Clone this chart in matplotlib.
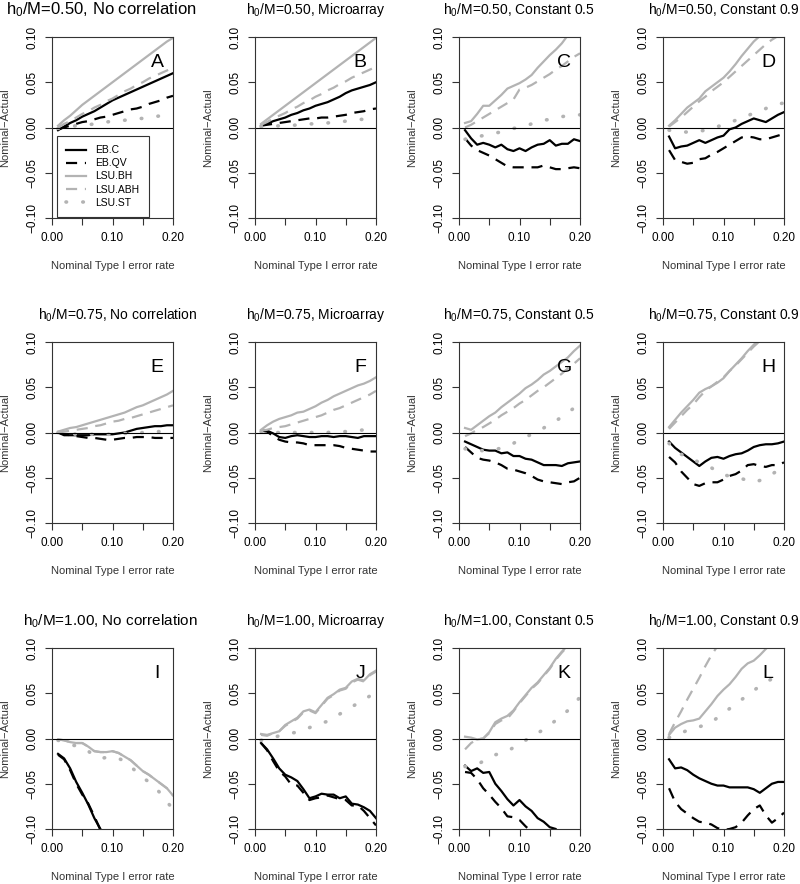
import matplotlib
matplotlib.use("Agg")
import matplotlib.pyplot as plt

plt.rcParams["font.family"] = ["Liberation Sans", "DejaVu Sans"]
plt.rcParams["mathtext.fontset"] = "custom"
plt.rcParams["mathtext.rm"] = "Liberation Sans"
plt.rcParams["mathtext.it"] = "Liberation Sans:italic"

# nominal type I error rate (x values)
nominal = [0.01, 0.02, 0.03, 0.04, 0.05, 0.06, 0.07, 0.08, 0.09, 0.10,
           0.11, 0.12, 0.13, 0.14, 0.15, 0.16, 0.17, 0.18, 0.19, 0.20]

ratios = ["0.50", "0.75", "1.00"]
structures = ["No correlation", "Microarray", "Constant 0.5", "Constant 0.9"]
letters = ["A", "B", "C", "D", "E", "F", "G", "H", "I", "J", "K", "L"]
methods = ["EB.C", "EB.QV", "LSU.BH", "LSU.ABH", "LSU.ST"]

# ---- row 1: h0/M = 0.50 ----
a_ebc = [-0.003, 0.001, 0.005, 0.008, 0.012, 0.015, 0.018, 0.022, 0.026, 0.030,
         0.033, 0.036, 0.039, 0.042, 0.045, 0.048, 0.051, 0.054, 0.057, 0.060]
a_ebqv = [-0.002, 0.000, 0.002, 0.004, 0.006, 0.007, 0.009, 0.011, 0.012, 0.014,
          0.016, 0.018, 0.020, 0.021, 0.023, 0.026, 0.028, 0.030, 0.033, 0.035]
a_bh = [0.002, 0.008, 0.013, 0.019, 0.025, 0.030, 0.035, 0.040, 0.045, 0.050,
        0.055, 0.060, 0.065, 0.070, 0.075, 0.080, 0.085, 0.090, 0.095, 0.099]
a_abh = [0.000, 0.004, 0.007, 0.011, 0.015, 0.018, 0.022, 0.025, 0.029, 0.032,
         0.036, 0.040, 0.043, 0.047, 0.050, 0.054, 0.057, 0.060, 0.063, 0.066]
a_st = [-0.001, 0.000, 0.001, 0.002, 0.002, 0.003, 0.004, 0.005, 0.006, 0.007,
        0.007, 0.008, 0.009, 0.010, 0.010, 0.011, 0.012, 0.013, 0.013, 0.014]

b_ebc = [0.002, 0.004, 0.007, 0.009, 0.011, 0.014, 0.016, 0.019, 0.021, 0.024,
         0.026, 0.028, 0.031, 0.034, 0.038, 0.041, 0.043, 0.045, 0.047, 0.050]
b_ebqv = [0.002, 0.003, 0.004, 0.005, 0.006, 0.007, 0.008, 0.009, 0.010, 0.010,
          0.011, 0.011, 0.012, 0.013, 0.014, 0.016, 0.017, 0.018, 0.020, 0.021]
b_bh = [0.004, 0.009, 0.014, 0.019, 0.024, 0.029, 0.034, 0.039, 0.044, 0.049,
        0.054, 0.059, 0.064, 0.069, 0.074, 0.079, 0.084, 0.089, 0.094, 0.099]
b_abh = [0.003, 0.006, 0.010, 0.013, 0.016, 0.020, 0.023, 0.027, 0.030, 0.034,
         0.037, 0.041, 0.044, 0.048, 0.051, 0.055, 0.058, 0.061, 0.064, 0.067]
b_st = [0.001, 0.001, 0.001, 0.002, 0.002, 0.002, 0.003, 0.003, 0.004, 0.004,
        0.005, 0.005, 0.006, 0.006, 0.007, 0.008, 0.009, 0.009, 0.010, 0.011]

c_ebc = [-0.003, -0.012, -0.019, -0.017, -0.019, -0.022, -0.019, -0.024, -0.026, -0.023,
         -0.026, -0.022, -0.019, -0.018, -0.014, -0.020, -0.018, -0.018, -0.013, -0.015]
c_ebqv = [-0.012, -0.020, -0.025, -0.028, -0.031, -0.035, -0.039, -0.043, -0.044, -0.044,
          -0.044, -0.044, -0.044, -0.042, -0.044, -0.046, -0.046, -0.045, -0.044, -0.045]
c_bh = [0.005, 0.007, 0.015, 0.024, 0.024, 0.030, 0.036, 0.043, 0.046, 0.049,
        0.053, 0.058, 0.066, 0.073, 0.080, 0.086, 0.093, 0.102, 0.108, 0.113]
c_abh = [0.000, 0.003, 0.007, 0.011, 0.015, 0.019, 0.023, 0.027, 0.031, 0.042,
         0.044, 0.047, 0.051, 0.055, 0.059, 0.064, 0.068, 0.073, 0.078, 0.082]
c_st = [-0.013, -0.012, -0.010, -0.009, -0.008, -0.006, -0.005, -0.003, -0.001, 0.000,
        0.002, 0.004, 0.006, 0.008, 0.009, 0.011, 0.012, 0.013, 0.014, 0.014]

d_ebc = [-0.010, -0.023, -0.021, -0.020, -0.017, -0.014, -0.017, -0.014, -0.011, -0.009,
         -0.002, 0.000, 0.004, 0.007, 0.010, 0.008, 0.006, 0.010, 0.014, 0.017]
d_ebqv = [-0.025, -0.036, -0.038, -0.040, -0.039, -0.035, -0.034, -0.030, -0.027, -0.023,
          -0.019, -0.015, -0.011, -0.010, -0.011, -0.013, -0.013, -0.011, -0.009, -0.007]
d_bh = [0.002, 0.008, 0.015, 0.022, 0.027, 0.032, 0.040, 0.045, 0.050, 0.055,
        0.062, 0.070, 0.079, 0.087, 0.095, 0.101, 0.105, 0.110, 0.115, 0.120]
d_abh = [0.001, 0.006, 0.011, 0.017, 0.023, 0.029, 0.034, 0.040, 0.045, 0.050,
         0.056, 0.062, 0.068, 0.074, 0.080, 0.086, 0.092, 0.097, 0.101, 0.105]
d_st = [-0.003, -0.004, -0.005, -0.005, -0.005, -0.004, -0.003, -0.001, 0.001, 0.003,
        0.005, 0.008, 0.010, 0.013, 0.016, 0.018, 0.021, 0.024, 0.026, 0.027]

# ---- row 2: h0/M = 0.75 ----
e_ebc = [0.000, -0.003, -0.003, -0.003, -0.003, -0.003, -0.002, -0.002, -0.002, -0.002,
         -0.001, 0.000, 0.002, 0.004, 0.005, 0.006, 0.007, 0.007, 0.008, 0.008]
e_ebqv = [0.000, -0.002, -0.003, -0.004, -0.005, -0.006, -0.006, -0.007, -0.008, -0.008,
          -0.007, -0.006, -0.006, -0.005, -0.005, -0.005, -0.006, -0.006, -0.006, -0.006]
e_bh = [0.001, 0.003, 0.005, 0.006, 0.008, 0.010, 0.012, 0.014, 0.016, 0.018,
        0.020, 0.022, 0.025, 0.028, 0.030, 0.033, 0.036, 0.039, 0.042, 0.046]
e_abh = [0.000, 0.001, 0.002, 0.003, 0.004, 0.005, 0.007, 0.008, 0.010, 0.012,
         0.013, 0.015, 0.016, 0.018, 0.020, 0.022, 0.024, 0.026, 0.028, 0.030]
e_st = [0.000, -0.001, -0.001, -0.002, -0.002, -0.002, -0.002, -0.002, -0.002, -0.002,
        -0.002, -0.001, -0.001, -0.001, 0.000, 0.000, 0.001, 0.001, 0.002, 0.002]

f_ebc = [0.002, 0.002, -0.001, -0.005, -0.006, -0.004, -0.003, -0.004, -0.005, -0.005,
         -0.004, -0.004, -0.005, -0.004, -0.004, -0.005, -0.006, -0.004, -0.004, -0.004]
f_ebqv = [0.002, 0.001, -0.004, -0.008, -0.010, -0.011, -0.011, -0.012, -0.014, -0.014,
          -0.014, -0.014, -0.014, -0.015, -0.017, -0.018, -0.019, -0.020, -0.021, -0.021]
f_bh = [0.003, 0.008, 0.012, 0.015, 0.017, 0.019, 0.022, 0.023, 0.026, 0.029,
        0.033, 0.036, 0.040, 0.043, 0.046, 0.049, 0.052, 0.054, 0.057, 0.061]
f_abh = [0.002, 0.003, 0.005, 0.006, 0.007, 0.009, 0.011, 0.013, 0.015, 0.017,
         0.019, 0.022, 0.025, 0.027, 0.030, 0.033, 0.036, 0.039, 0.042, 0.046]
f_st = [0.001, 0.001, 0.000, 0.000, 0.000, 0.000, 0.000, 0.000, 0.000, 0.000,
        0.000, 0.000, 0.001, 0.001, 0.001, 0.002, 0.002, 0.003, 0.004, 0.006]

g_ebc = [-0.010, -0.013, -0.016, -0.019, -0.020, -0.020, -0.023, -0.022, -0.026, -0.026,
         -0.029, -0.030, -0.033, -0.036, -0.036, -0.036, -0.037, -0.034, -0.033, -0.032]
g_ebqv = [-0.016, -0.022, -0.028, -0.030, -0.031, -0.033, -0.036, -0.040, -0.041, -0.043,
          -0.045, -0.048, -0.052, -0.054, -0.055, -0.056, -0.057, -0.055, -0.054, -0.050]
g_bh = [0.005, 0.003, 0.008, 0.013, 0.018, 0.022, 0.028, 0.033, 0.038, 0.043,
        0.049, 0.053, 0.058, 0.064, 0.068, 0.073, 0.078, 0.083, 0.090, 0.096]
g_abh = [-0.004, -0.001, 0.003, 0.006, 0.010, 0.014, 0.019, 0.023, 0.027, 0.032,
         0.036, 0.041, 0.046, 0.050, 0.055, 0.060, 0.065, 0.071, 0.076, 0.082]
g_st = [-0.018, -0.019, -0.020, -0.020, -0.020, -0.019, -0.017, -0.015, -0.012, -0.008,
        -0.005, -0.002, 0.001, 0.005, 0.009, 0.013, 0.017, 0.022, 0.027, 0.033]

h_ebc = [-0.010, -0.017, -0.022, -0.027, -0.032, -0.037, -0.032, -0.028, -0.027, -0.029,
         -0.026, -0.024, -0.023, -0.020, -0.016, -0.014, -0.013, -0.013, -0.012, -0.010]
h_ebqv = [-0.027, -0.033, -0.043, -0.050, -0.057, -0.059, -0.056, -0.055, -0.055, -0.052,
          -0.048, -0.046, -0.042, -0.036, -0.035, -0.037, -0.038, -0.036, -0.036, -0.033]
h_bh = [0.006, 0.014, 0.022, 0.029, 0.036, 0.044, 0.048, 0.051, 0.055, 0.060,
        0.068, 0.075, 0.082, 0.090, 0.097, 0.103, 0.108, 0.113, 0.118, 0.123]
h_abh = [0.004, 0.011, 0.018, 0.025, 0.031, 0.039, 0.046, 0.051, 0.056, 0.061,
         0.068, 0.074, 0.081, 0.088, 0.095, 0.101, 0.106, 0.111, 0.116, 0.121]
h_st = [-0.012, -0.020, -0.024, -0.027, -0.030, -0.033, -0.035, -0.039, -0.043, -0.047,
        -0.048, -0.049, -0.051, -0.053, -0.055, -0.053, -0.050, -0.046, -0.042, -0.040]

# ---- row 3: h0/M = 1.00 ----
i_ebc = [-0.017, -0.022, -0.033, -0.048, -0.060, -0.073, -0.088, -0.100, -0.112, -0.125,
         -0.138, -0.150, -0.162, -0.175, -0.187, -0.199, -0.210, -0.222, -0.234, -0.246]
i_ebqv = [-0.018, -0.023, -0.035, -0.050, -0.062, -0.072, -0.086, -0.101, -0.115, -0.128,
          -0.140, -0.152, -0.164, -0.177, -0.189, -0.201, -0.212, -0.224, -0.236, -0.248]
i_bh = [-0.001, -0.002, -0.004, -0.005, -0.005, -0.009, -0.014, -0.015, -0.015, -0.014,
        -0.016, -0.020, -0.024, -0.030, -0.036, -0.040, -0.045, -0.050, -0.055, -0.063]
i_abh = [-0.001, -0.002, -0.004, -0.005, -0.005, -0.009, -0.014, -0.015, -0.015, -0.014,
         -0.016, -0.020, -0.024, -0.030, -0.036, -0.040, -0.045, -0.050, -0.055, -0.063]
i_st = [-0.002, -0.004, -0.007, -0.008, -0.010, -0.014, -0.019, -0.022, -0.021, -0.020,
        -0.022, -0.025, -0.031, -0.037, -0.043, -0.048, -0.054, -0.061, -0.070, -0.078]

j_ebc = [-0.005, -0.012, -0.022, -0.033, -0.040, -0.043, -0.047, -0.056, -0.066, -0.064,
         -0.061, -0.062, -0.062, -0.066, -0.064, -0.072, -0.073, -0.076, -0.080, -0.088]
j_ebqv = [-0.005, -0.013, -0.025, -0.036, -0.042, -0.051, -0.052, -0.060, -0.068, -0.066,
          -0.065, -0.063, -0.065, -0.067, -0.068, -0.074, -0.074, -0.080, -0.088, -0.096]
j_bh = [0.005, 0.004, 0.006, 0.008, 0.015, 0.019, 0.023, 0.030, 0.032, 0.029,
        0.037, 0.045, 0.049, 0.054, 0.056, 0.063, 0.066, 0.064, 0.071, 0.075]
j_abh = [0.004, 0.003, 0.006, 0.008, 0.014, 0.018, 0.022, 0.029, 0.031, 0.028,
         0.036, 0.044, 0.048, 0.053, 0.055, 0.062, 0.065, 0.063, 0.070, 0.074]
j_st = [-0.002, -0.001, 0.001, 0.003, 0.004, 0.006, 0.007, 0.009, 0.012, 0.015,
        0.017, 0.019, 0.022, 0.027, 0.031, 0.035, 0.039, 0.043, 0.047, 0.049]

k_ebc = [-0.030, -0.036, -0.033, -0.038, -0.037, -0.050, -0.058, -0.067, -0.074, -0.068,
         -0.075, -0.080, -0.088, -0.092, -0.098, -0.100, -0.110, -0.120, -0.130, -0.140]
k_ebqv = [-0.037, -0.038, -0.045, -0.055, -0.062, -0.070, -0.077, -0.086, -0.087, -0.090,
          -0.097, -0.103, -0.110, -0.118, -0.125, -0.132, -0.140, -0.147, -0.155, -0.162]
k_bh = [0.002, 0.001, -0.001, 0.000, 0.007, 0.018, 0.022, 0.025, 0.031, 0.040,
        0.048, 0.056, 0.062, 0.070, 0.078, 0.088, 0.096, 0.103, 0.108, 0.115]
k_abh = [-0.012, -0.005, -0.001, 0.000, 0.006, 0.016, 0.020, 0.022, 0.030, 0.039,
         0.047, 0.055, 0.061, 0.069, 0.077, 0.087, 0.095, 0.102, 0.107, 0.114]
k_st = [-0.031, -0.030, -0.029, -0.025, -0.021, -0.018, -0.016, -0.014, -0.010, -0.007,
        -0.002, 0.003, 0.006, 0.010, 0.015, 0.020, 0.025, 0.031, 0.037, 0.046]

l_ebc = [-0.023, -0.033, -0.032, -0.035, -0.040, -0.044, -0.047, -0.050, -0.052, -0.052,
         -0.054, -0.054, -0.054, -0.054, -0.056, -0.060, -0.055, -0.050, -0.048, -0.048]
l_ebqv = [-0.055, -0.070, -0.078, -0.083, -0.088, -0.092, -0.093, -0.095, -0.099, -0.101,
          -0.100, -0.098, -0.093, -0.085, -0.078, -0.074, -0.085, -0.093, -0.088, -0.082]
l_bh = [0.004, 0.012, 0.016, 0.019, 0.020, 0.022, 0.030, 0.038, 0.047, 0.054,
        0.060, 0.068, 0.077, 0.083, 0.086, 0.092, 0.099, 0.105, 0.110, 0.115]
l_abh = [0.005, 0.018, 0.030, 0.043, 0.055, 0.067, 0.080, 0.092, 0.102, 0.112,
         0.122, 0.132, 0.142, 0.152, 0.162, 0.172, 0.182, 0.192, 0.202, 0.212]
l_st = [0.001, 0.004, 0.006, 0.009, 0.011, 0.013, 0.015, 0.018, 0.023, 0.028,
        0.033, 0.039, 0.043, 0.048, 0.053, 0.058, 0.062, 0.066, 0.069, 0.071]

panels = [
    [a_ebc, a_ebqv, a_bh, a_abh, a_st], [b_ebc, b_ebqv, b_bh, b_abh, b_st],
    [c_ebc, c_ebqv, c_bh, c_abh, c_st], [d_ebc, d_ebqv, d_bh, d_abh, d_st],
    [e_ebc, e_ebqv, e_bh, e_abh, e_st], [f_ebc, f_ebqv, f_bh, f_abh, f_st],
    [g_ebc, g_ebqv, g_bh, g_abh, g_st], [h_ebc, h_ebqv, h_bh, h_abh, h_st],
    [i_ebc, i_ebqv, i_bh, i_abh, i_st], [j_ebc, j_ebqv, j_bh, j_abh, j_st],
    [k_ebc, k_ebqv, k_bh, k_abh, k_st], [l_ebc, l_ebqv, l_bh, l_abh, l_st],
]

grey = "#b3b3b3"
styles = [
    dict(color="black", lw=1.6, ls="-"),
    dict(color="black", lw=1.6, dashes=(5, 3.5)),
    dict(color=grey, lw=1.6, ls="-"),
    dict(color=grey, lw=1.6, dashes=(5, 3.5)),
    dict(color=grey, lw=2.6, dashes=(0.15, 4.5), dash_capstyle="round"),
]

W, H = 800, 884
fig = plt.figure(figsize=(W / 100, H / 100), dpi=100)

col_left = [52, 255, 459, 663]
row_top = [37, 342, 648]
bw, bh = 121, 181

for k, series in enumerate(panels):
    r, c = divmod(k, 4)
    ax = fig.add_axes([col_left[c] / W, 1 - (row_top[r] + bh) / H, bw / W, bh / H])
    for vals, st, name in zip(series, styles, methods):
        ax.plot(nominal, vals, label=name, **st)
    ax.axhline(0, color="black", lw=0.8)
    ax.set_xlim(0, 0.2)
    ax.set_ylim(-0.1, 0.1)
    ax.set_xticks([0, 0.05, 0.10, 0.15, 0.20])
    ax.set_xticklabels(["0.00", "", "0.10", "", "0.20"])
    ax.set_yticks([-0.10, -0.05, 0, 0.05, 0.10])
    ax.set_yticklabels(["\u22120.10", "\u22120.05", "0.00", "0.05", "0.10"])
    ax.tick_params(length=5, width=0.8, pad=5, labelsize=8.5, color="#333333")
    plt.setp(ax.get_yticklabels(), rotation=90, va="center")
    for sp in ax.spines.values():
        sp.set_linewidth(0.8)
        sp.set_color("#333333")
    ax.set_xlabel("Nominal Type I error rate", fontsize=8, color="#333333")
    ax.xaxis.set_label_coords(0.5, -48 / bh)
    ax.xaxis.label.set_va("center")
    ax.set_ylabel("Nominal\u2212Actual", fontsize=8, color="#333333")
    ax.yaxis.set_label_coords(-47 / bw, 0.5)
    ax.yaxis.label.set_va("center")

    tsize, tx = 10, 0.5
    if k == 0:
        tsize, tx = 12, 0.41
    elif k == 4:
        tx = 0.54
    elif k == 8:
        tsize, tx = 11, 0.48
    ax.text(tx, 1 + 27 / bh, "h$_0$/M=%s, %s" % (ratios[r], structures[c]),
            transform=ax.transAxes, ha="center", va="center", fontsize=tsize)
    ax.text(0.87, 0.86, letters[k], transform=ax.transAxes,
            ha="center", va="center", fontsize=14)

    if k == 0:
        leg = ax.legend(loc="lower left", bbox_to_anchor=(0.04, 0.005), fontsize=7.5,
                        handlelength=1.9, handletextpad=0.9, labelspacing=0.3,
                        borderpad=0.9, borderaxespad=0, fancybox=False,
                        framealpha=1, edgecolor="#333333")
        leg.get_frame().set_linewidth(0.8)

fig.savefig("out.png", dpi=100)
